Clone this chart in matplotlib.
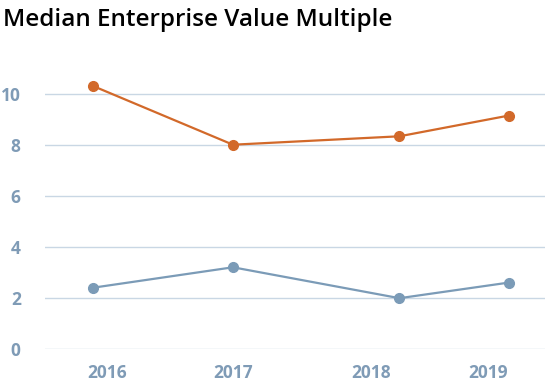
import matplotlib
matplotlib.use("Agg")
import matplotlib.pyplot as plt

# chart data
years = ["2016", "2017", "2018", "2019"]
tick_pos = [0.10, 1.00, 1.99, 2.82]      # where the year labels sit
point_pos = [0.00, 1.00, 2.19, 2.97]     # where the points sit
orange_vals = [10.3, 8.0, 8.33, 9.14]
blue_vals = [2.4, 3.2, 1.99, 2.6]
y_ticks = [0, 2, 4, 6, 8, 10]

ORANGE = "#d2692a"
BLUE = "#7b9bb7"
GRID = "#c9d7e4"
LABEL = "#7f9bb6"

plt.rcParams["font.family"] = ["Open Sans", "DejaVu Sans"]

fig = plt.figure(figsize=(5.45, 3.86), dpi=100)
ax = fig.add_axes([45 / 545, (386 - 349) / 386, 500 / 545, (349 - 63) / 386])

ax.plot(point_pos, orange_vals, color=ORANGE, lw=1.6, marker="o", ms=7, zorder=3)
ax.plot(point_pos, blue_vals, color=BLUE, lw=1.6, marker="o", ms=7, zorder=3)

ax.set_xlim(-0.343, 3.23)
ax.set_ylim(0, 11.2)
ax.set_yticks(y_ticks)
ax.set_xticks(tick_pos)
ax.set_xticklabels(years)
ax.grid(axis="y", color=GRID, lw=1)
ax.set_axisbelow(True)
for s in ax.spines.values():
    s.set_visible(False)
ax.tick_params(length=0)
ax.tick_params(axis="y", pad=17.5)
ax.tick_params(axis="x", pad=10.5)
for lab in ax.get_xticklabels() + ax.get_yticklabels():
    lab.set_color(LABEL)
    lab.set_fontsize(12.5)
    lab.set_fontweight("bold")

fig.text(3 / 545, 1 - 20 / 386, "Median Enterprise Value Multiple",
         fontsize=17.5, fontweight="semibold", color="black", va="center", ha="left")

fig.savefig("out.png", dpi=100)
